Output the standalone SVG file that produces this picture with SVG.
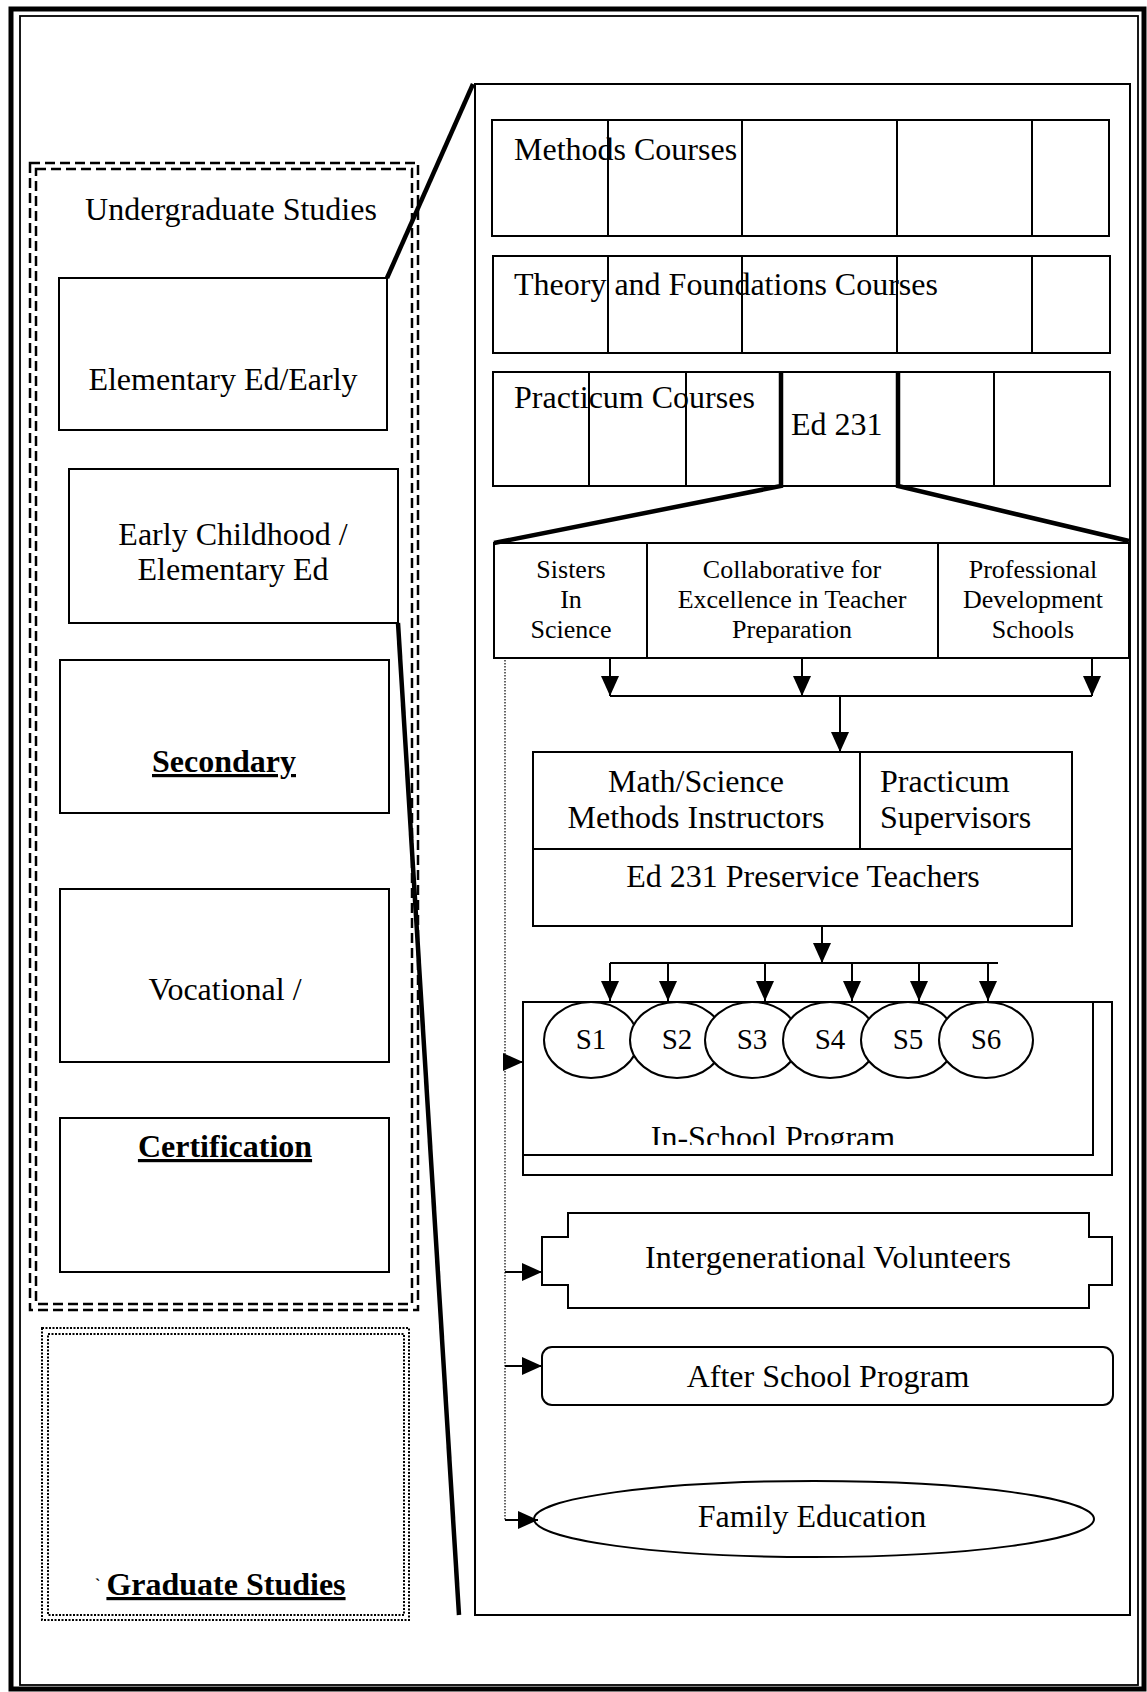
<svg xmlns="http://www.w3.org/2000/svg" width="1147" height="1692" viewBox="0 0 1147 1692">
<defs>
<style>
.t{font-family:"Liberation Serif","Times New Roman",serif;font-size:32px;fill:#000}
.s{font-size:26px}
.b{font-weight:bold;text-decoration:underline}
.box{fill:#fff;stroke:#000;stroke-width:2}
.ln{fill:none;stroke:#000;stroke-width:2}
.thick{fill:none;stroke:#000;stroke-width:4.5;stroke-linejoin:miter}
.dash{fill:none;stroke:#000;stroke-width:2.5;stroke-dasharray:10 5}
.dot{fill:none;stroke:#000;stroke-width:2;stroke-dasharray:2 1.5}
.arr{fill:none;stroke:#000;stroke-width:2;marker-end:url(#ah)}
</style>
<marker id="ah" markerUnits="userSpaceOnUse" markerWidth="20" markerHeight="18" refX="20" refY="9" orient="auto">
<path d="M0,0 L20,9 L0,18 Z" fill="#000"/>
</marker>
<clipPath id="clipIS"><rect x="523" y="1002" width="570" height="143"/></clipPath>
</defs>
<rect x="0" y="0" width="1147" height="1692" fill="#fff"/>
<g id="frame">
<rect x="11" y="9" width="1133" height="1680" fill="none" stroke="#000" stroke-width="5"/>
<rect x="20" y="16" width="1118" height="1669" fill="none" stroke="#000" stroke-width="1.8"/>
</g>
<g id="undergraduate">
<rect class="dash" x="30" y="163" width="388" height="1147"/>
<rect class="dash" x="36" y="169" width="376" height="1135"/>
<text class="t" x="231" y="220" text-anchor="middle">Undergraduate Studies</text>
</g>
<g id="elementary">
<rect class="box" x="59" y="278" width="328" height="152"/>
<text class="t" x="223" y="390" text-anchor="middle">Elementary Ed/Early</text>
</g>
<g id="early-childhood">
<rect class="box" x="69" y="469" width="329" height="154"/>
<text class="t" x="233" y="545" text-anchor="middle">Early Childhood /</text>
<text class="t" x="233" y="580" text-anchor="middle">Elementary Ed</text>
</g>
<g id="secondary">
<rect class="box" x="60" y="660" width="329" height="153"/>
<text class="t b" x="224" y="772" text-anchor="middle">Secondary</text>
</g>
<g id="vocational">
<rect class="box" x="60" y="889" width="329" height="173"/>
<text class="t" x="225" y="1000" text-anchor="middle">Vocational /</text>
</g>
<g id="certification">
<rect class="box" x="60" y="1118" width="329" height="154"/>
<text class="t b" x="225" y="1157" text-anchor="middle">Certification</text>
</g>
<g id="graduate">
<rect class="dot" x="42" y="1328" width="367" height="292"/>
<rect class="dot" x="48" y="1334" width="356" height="281"/>
<text class="t" x="95" y="1590" style="font-size:16px;font-weight:bold">`</text>
<text class="t b" x="226" y="1595" text-anchor="middle">Graduate Studies</text>
</g>
<g id="detail-panel">
<rect class="box" x="475" y="84" width="655" height="1531"/>
</g>
<g id="methods">
<rect class="box" x="492" y="120" width="617" height="116"/>
<path class="ln" d="M608,120V236M742,120V236M897,120V236M1032,120V236"/>
<text class="t" x="514" y="160">Methods Courses</text>
</g>
<g id="theory">
<rect class="box" x="493" y="256" width="617" height="97"/>
<path class="ln" d="M608,256V353M742,256V353M897,256V353M1032,256V353"/>
<text class="t" x="514" y="295">Theory and Foundations Courses</text>
</g>
<g id="practicum">
<rect class="box" x="493" y="372" width="617" height="114"/>
<path class="ln" d="M589,372V486M686,372V486M994,372V486"/>
<text class="t" x="514" y="408">Practicum Courses</text>
</g>
<g id="ed231">
<text class="t" x="791" y="435">Ed 231</text>
</g>
<g id="partners">
<rect class="box" x="494" y="543" width="635" height="115"/>
<path class="ln" d="M647,543V658M938,543V658"/>
<text class="t s" text-anchor="middle"><tspan x="571" y="578">Sisters</tspan><tspan x="571" y="608">In</tspan><tspan x="571" y="638">Science</tspan></text>
<text class="t s" text-anchor="middle"><tspan x="792" y="578">Collaborative for</tspan><tspan x="792" y="608">Excellence in Teacher</tspan><tspan x="792" y="638">Preparation</tspan></text>
<text class="t s" text-anchor="middle"><tspan x="1033" y="578">Professional</tspan><tspan x="1033" y="608">Development</tspan><tspan x="1033" y="638">Schools</tspan></text>
</g>
<g id="teachers">
<rect class="box" x="533" y="752" width="539" height="174"/>
<path class="ln" d="M860,752V849M533,849H1072"/>
<text class="t" x="696" y="792" text-anchor="middle">Math/Science</text>
<text class="t" x="696" y="828" text-anchor="middle">Methods Instructors</text>
<text class="t" x="880" y="792">Practicum</text>
<text class="t" x="880" y="828">Supervisors</text>
<text class="t" x="803" y="887" text-anchor="middle">Ed 231 Preservice Teachers</text>
</g>
<g id="in-school">
<rect class="box" x="523" y="1002" width="589" height="173"/>
<rect class="box" x="523" y="1002" width="570" height="153"/>
<text class="t" x="773" y="1148" text-anchor="middle" clip-path="url(#clipIS)">In-School Program</text>
<g id="schools">
<ellipse class="box" cx="591" cy="1040" rx="47" ry="38"/>
<ellipse class="box" cx="677" cy="1040" rx="47" ry="38"/>
<ellipse class="box" cx="752" cy="1040" rx="47" ry="38"/>
<ellipse class="box" cx="830" cy="1040" rx="47" ry="38"/>
<ellipse class="box" cx="908" cy="1040" rx="47" ry="38"/>
<ellipse class="box" cx="986" cy="1040" rx="47" ry="38"/>
<text class="t" y="1049" text-anchor="middle" style="font-size:29px"><tspan x="591">S1</tspan><tspan x="677">S2</tspan><tspan x="752">S3</tspan><tspan x="830">S4</tspan><tspan x="908">S5</tspan><tspan x="986">S6</tspan></text>
</g>
</g>
<g id="intergenerational">
<path class="box" d="M568,1213H1089V1237H1112V1285H1089V1308H568V1285H542V1237H568Z"/>
<text class="t" x="828" y="1268" text-anchor="middle" textLength="366" lengthAdjust="spacing">Intergenerational Volunteers</text>
</g>
<g id="after-school">
<rect class="box" x="542" y="1347" width="571" height="58" rx="10" ry="10"/>
<text class="t" x="828" y="1387" text-anchor="middle">After School Program</text>
</g>
<g id="family">
<ellipse class="box" cx="814" cy="1519" rx="280" ry="38"/>
<text class="t" x="812" y="1527" text-anchor="middle">Family Education</text>
</g>
<g id="connectors">
<path class="thick" d="M387,278L473,84"/>
<path class="thick" d="M398,623L459,1615"/>
<path class="thick" d="M494,543L781,486V372M1129,541L898,486V372"/>
<path class="arr" d="M610,658V696"/>
<path class="arr" d="M802,658V696"/>
<path class="arr" d="M1092,658V696"/>
<path class="ln" d="M610,696H1092"/>
<path class="arr" d="M840,696V752"/>
<path class="arr" d="M822,926V963"/>
<path class="ln" d="M610,963H998"/>
<path class="arr" d="M610,963V1001"/>
<path class="arr" d="M668,963V1001"/>
<path class="arr" d="M765,963V1001"/>
<path class="arr" d="M852,963V1001"/>
<path class="arr" d="M919,963V1001"/>
<path class="arr" d="M988,963V1001"/>
<path d="M505,660V1520" fill="none" stroke="#000" stroke-width="1.2" stroke-dasharray="1.5 1.5"/>
<path class="arr" d="M505,1062H523"/>
<path class="arr" d="M505,1272H542"/>
<path class="arr" d="M505,1366H542"/>
<path class="arr" d="M505,1520H538"/>
</g>
</svg>
